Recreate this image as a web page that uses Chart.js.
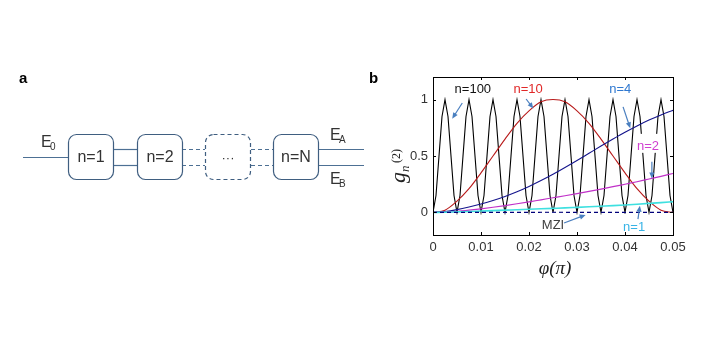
<!DOCTYPE html>
<html>
<head>
<meta charset="utf-8">
<script src="https://cdn.jsdelivr.net/npm/chart.js@4"></script>
<style>
  html, body { margin: 0; padding: 0; background: #fff; }
  #fig { display: block; }
</style>
</head>
<body>
<canvas id="fig" width="722" height="344"></canvas>
<script>
// phase axis (units of pi)
const phiCoarse = [0, 0.0025, 0.005, 0.0075, 0.01, 0.0125, 0.015, 0.0175, 0.02, 0.0225, 0.025,
  0.0275, 0.03, 0.0325, 0.035, 0.0375, 0.04, 0.0425, 0.045, 0.0475, 0.05];
const phiFine = [0, 0.000625, 0.00125, 0.001875, 0.0025, 0.003125, 0.00375, 0.004375,
  0.005, 0.005625, 0.00625, 0.006875, 0.0075, 0.008125, 0.00875, 0.009375,
  0.01, 0.010625, 0.01125, 0.011875, 0.0125, 0.013125, 0.01375, 0.014375,
  0.015, 0.015625, 0.01625, 0.016875, 0.0175, 0.018125, 0.01875, 0.019375,
  0.02, 0.020625, 0.02125, 0.021875, 0.0225, 0.023125, 0.02375, 0.024375,
  0.025, 0.025625, 0.02625, 0.026875, 0.0275, 0.028125, 0.02875, 0.029375,
  0.03, 0.030625, 0.03125, 0.031875, 0.0325, 0.033125, 0.03375, 0.034375,
  0.035, 0.035625, 0.03625, 0.036875, 0.0375, 0.038125, 0.03875, 0.039375,
  0.04, 0.040625, 0.04125, 0.041875, 0.0425, 0.043125, 0.04375, 0.044375,
  0.045, 0.045625, 0.04625, 0.046875, 0.0475, 0.048125, 0.04875, 0.049375, 0.05];
const phiMZI = [0, 0.05];

// g_n^(2) for each chain length
const gN100 = [0, 0.15, 0.5, 0.85, 1, 0.85, 0.5, 0.15,
  0, 0.15, 0.5, 0.85, 1, 0.85, 0.5, 0.15,
  0, 0.15, 0.5, 0.85, 1, 0.85, 0.5, 0.15,
  0, 0.15, 0.5, 0.85, 1, 0.85, 0.5, 0.15,
  0, 0.15, 0.5, 0.85, 1, 0.85, 0.5, 0.15,
  0, 0.15, 0.5, 0.85, 1, 0.85, 0.5, 0.15,
  0, 0.15, 0.5, 0.85, 1, 0.85, 0.5, 0.15,
  0, 0.15, 0.5, 0.85, 1, 0.85, 0.5, 0.15,
  0, 0.15, 0.5, 0.85, 1, 0.85, 0.5, 0.15,
  0, 0.15, 0.5, 0.85, 1, 0.85, 0.5, 0.15, 0];
const gN10 = [0, 0.02, 0.10, 0.21, 0.35, 0.50, 0.65, 0.79, 0.90, 0.98, 1.00,
  0.98, 0.90, 0.79, 0.65, 0.50, 0.35, 0.21, 0.10, 0.02, 0];
const gN4 = [0, 0.008, 0.025, 0.048, 0.075, 0.106, 0.142, 0.183, 0.23, 0.282, 0.338,
  0.398, 0.46, 0.524, 0.588, 0.65, 0.71, 0.766, 0.818, 0.864, 0.905];
const gN2 = [0, 0.004, 0.01, 0.02, 0.032, 0.046, 0.061, 0.077, 0.094, 0.112, 0.13,
  0.148, 0.167, 0.187, 0.207, 0.228, 0.25, 0.272, 0.296, 0.32, 0.345];
const gN1 = [0, 0.002, 0.005, 0.008, 0.012, 0.016, 0.02, 0.024, 0.028, 0.032, 0.036,
  0.04, 0.045, 0.05, 0.055, 0.06, 0.066, 0.073, 0.08, 0.087, 0.095];
const gMZI = [0, 0];

const xTicks = [0, 0.01, 0.02, 0.03, 0.04, 0.05];
const xTickLabels = ['0', '0.01', '0.02', '0.03', '0.04', '0.05'];
const yTicks = [0, 0.5, 1];
const yTickLabels = ['0', '0.5', '1'];

function pts(xs, ys) {
  return xs.map((x, i) => ({ x: x, y: ys[i] }));
}

// curve annotations: text position and arrow (tail -> head), in data units
const notes = [
  { text: 'n=100', color: '#111111', at: [0.0083, 1.10], from: [0.0061, 0.97], to: [0.0040, 0.83] },
  { text: 'n=10', color: '#e02828', at: [0.0198, 1.10], from: [0.0194, 1.005], to: [0.0209, 0.92] },
  { text: 'n=4', color: '#2f78d0', at: [0.0390, 1.10], from: [0.0396, 0.935], to: [0.0411, 0.745] },
  { text: 'n=2', color: '#d040d0', at: [0.0448, 0.59], from: [0.0456, 0.45], to: [0.0456, 0.30] },
  { text: 'n=1', color: '#38b4e6', at: [0.0419, -0.12], from: [0.0427, -0.06], to: [0.0431, 0.06] },
  { text: 'MZI', color: '#404040', at: [0.0250, -0.11], from: [0.0273, -0.094], to: [0.0318, -0.022] }
];

const sans = '"Liberation Sans", Arial, sans-serif';
const serif = '"Liberation Serif", "Times New Roman", serif';

function roundRect(ctx, x, y, w, h, r) {
  ctx.beginPath();
  ctx.moveTo(x + r, y);
  ctx.arcTo(x + w, y, x + w, y + h, r);
  ctx.arcTo(x + w, y + h, x, y + h, r);
  ctx.arcTo(x, y + h, x, y, r);
  ctx.arcTo(x, y, x + w, y, r);
  ctx.closePath();
}

function hLine(ctx, x1, x2, y, dashed) {
  ctx.setLineDash(dashed ? [4, 3] : []);
  ctx.beginPath();
  ctx.moveTo(x1, y);
  ctx.lineTo(x2, y);
  ctx.stroke();
}

// panel a: the cascade of interferometers
function drawCascade(ctx) {
  ctx.save();
  ctx.fillStyle = '#000';
  ctx.font = 'bold 15px ' + sans;
  ctx.textBaseline = 'alphabetic';
  ctx.fillText('a', 19, 83);

  ctx.strokeStyle = '#4d7094';
  ctx.lineWidth = 1.2;
  const yUp = 149.5, yDn = 165.5, yIn = 157.5;
  hLine(ctx, 23, 68, yIn, false);
  hLine(ctx, 114, 137, yUp, false);
  hLine(ctx, 114, 137, yDn, false);
  hLine(ctx, 182, 205, yUp, true);
  hLine(ctx, 182, 205, yDn, true);
  hLine(ctx, 251, 273, yUp, true);
  hLine(ctx, 251, 273, yDn, true);
  hLine(ctx, 318, 364, yUp, false);
  hLine(ctx, 318, 364, yDn, false);

  const boxes = [
    { x: 68, label: 'n=1', dashed: false },
    { x: 137, label: 'n=2', dashed: false },
    { x: 205, label: '···', dashed: true },
    { x: 273, label: 'n=N', dashed: false }
  ];
  ctx.strokeStyle = '#3f5e80';
  boxes.forEach(b => {
    ctx.setLineDash(b.dashed ? [4, 3] : []);
    roundRect(ctx, b.x + 0.5, 134.5, 45, 45, 8);
    ctx.fillStyle = '#fff';
    ctx.fill();
    ctx.stroke();
    ctx.fillStyle = '#333';
    ctx.font = (b.dashed ? '13px ' : '16px ') + sans;
    ctx.textAlign = 'center';
    ctx.textBaseline = 'middle';
    ctx.fillText(b.label, b.x + 23, 158);
  });
  ctx.setLineDash([]);

  // field labels
  ctx.fillStyle = '#333';
  ctx.textAlign = 'left';
  ctx.textBaseline = 'alphabetic';
  const fields = [
    { x: 41, y: 147, sub: '0' },
    { x: 330, y: 140, sub: 'A' },
    { x: 330, y: 184, sub: 'B' }
  ];
  fields.forEach(f => {
    ctx.font = '16px ' + sans;
    ctx.fillText('E', f.x, f.y);
    ctx.font = '10px ' + sans;
    ctx.fillText(f.sub, f.x + 9, f.y + 3);
  });
  ctx.restore();
}

function arrow(ctx, x1, y1, x2, y2, color) {
  const ang = Math.atan2(y2 - y1, x2 - x1);
  const len = 6, half = 2.6;
  ctx.strokeStyle = color;
  ctx.fillStyle = color;
  ctx.lineWidth = 1.2;
  ctx.beginPath();
  ctx.moveTo(x1, y1);
  ctx.lineTo(x2 - Math.cos(ang) * len * 0.6, y2 - Math.sin(ang) * len * 0.6);
  ctx.stroke();
  ctx.beginPath();
  ctx.moveTo(x2, y2);
  ctx.lineTo(x2 - Math.cos(ang) * len - Math.sin(ang) * half, y2 - Math.sin(ang) * len + Math.cos(ang) * half);
  ctx.lineTo(x2 - Math.cos(ang) * len + Math.sin(ang) * half, y2 - Math.sin(ang) * len - Math.cos(ang) * half);
  ctx.closePath();
  ctx.fill();
}

const figurePlugin = {
  id: 'figure',
  beforeDraw(chart) {
    const ctx = chart.ctx;
    ctx.save();
    ctx.fillStyle = '#fff';
    ctx.fillRect(0, 0, chart.width, chart.height);
    ctx.restore();
    drawCascade(ctx);
  },
  afterDatasetsDraw(chart) {
    const ctx = chart.ctx;
    const a = chart.chartArea;
    const xs = chart.scales.x, ys = chart.scales.y;
    ctx.save();

    // curve labels on white boxes, then arrows
    ctx.font = '13px ' + sans;
    ctx.textAlign = 'center';
    ctx.textBaseline = 'middle';
    notes.forEach(n => {
      const px = xs.getPixelForValue(n.at[0]);
      const py = ys.getPixelForValue(n.at[1]);
      const w = ctx.measureText(n.text).width;
      ctx.fillStyle = '#fff';
      ctx.fillRect(px - w / 2 - 2, py - 12, w + 4, 19);
      ctx.fillStyle = n.color;
      ctx.fillText(n.text, px, py + 1);
    });
    notes.forEach(n => {
      arrow(ctx,
        xs.getPixelForValue(n.from[0]), ys.getPixelForValue(n.from[1]),
        xs.getPixelForValue(n.to[0]), ys.getPixelForValue(n.to[1]), '#4a7fbf');
    });

    // axes box with inward ticks
    ctx.strokeStyle = '#000';
    ctx.lineWidth = 1;
    ctx.strokeRect(Math.round(a.left) + 0.5, Math.round(a.top) + 0.5,
      Math.round(a.right - a.left), Math.round(a.bottom - a.top));
    ctx.beginPath();
    xTicks.forEach(v => {
      const px = Math.round(xs.getPixelForValue(v)) + 0.5;
      ctx.moveTo(px, a.bottom); ctx.lineTo(px, a.bottom - 3);
      ctx.moveTo(px, a.top); ctx.lineTo(px, a.top + 3);
    });
    yTicks.forEach(v => {
      const py = Math.round(ys.getPixelForValue(v)) + 0.5;
      ctx.moveTo(a.left, py); ctx.lineTo(a.left + 3, py);
      ctx.moveTo(a.right, py); ctx.lineTo(a.right - 3, py);
    });
    ctx.stroke();

    // panel letter
    ctx.fillStyle = '#000';
    ctx.font = 'bold 15px ' + sans;
    ctx.textAlign = 'left';
    ctx.textBaseline = 'alphabetic';
    ctx.fillText('b', 369, 83);

    // axis titles
    ctx.fillStyle = '#222';
    ctx.font = 'italic 19px ' + serif;
    ctx.textAlign = 'center';
    ctx.textBaseline = 'middle';
    ctx.fillText('φ(π)', (a.left + a.right) / 2 + 2, 269);

    ctx.save();
    ctx.translate(a.left - 28, (a.top + a.bottom) / 2 + 27);
    ctx.rotate(-Math.PI / 2);
    ctx.textAlign = 'left';
    ctx.textBaseline = 'alphabetic';
    ctx.font = 'italic 22px ' + serif;
    ctx.fillText('g', 0, 0);
    ctx.font = 'italic 13px ' + serif;
    ctx.fillText('n', 11, 4);
    ctx.font = '12px ' + serif;
    ctx.fillText('(2)', 20, -5);
    ctx.restore();

    ctx.restore();
  }
};

const tickFont = { family: sans, size: 13 };

new Chart(document.getElementById('fig'), {
  type: 'line',
  data: {
    datasets: [
      { label: 'MZI', data: pts(phiMZI, gMZI), borderColor: '#00007a', borderWidth: 1.2, borderDash: [4, 3] },
      { label: 'n=1', data: pts(phiCoarse, gN1), borderColor: '#3ee0e0', borderWidth: 1.6, cubicInterpolationMode: 'monotone' },
      { label: 'n=2', data: pts(phiCoarse, gN2), borderColor: '#c030c8', borderWidth: 1.2, cubicInterpolationMode: 'monotone' },
      { label: 'n=4', data: pts(phiCoarse, gN4), borderColor: '#14148c', borderWidth: 1.1, cubicInterpolationMode: 'monotone' },
      { label: 'n=10', data: pts(phiCoarse, gN10), borderColor: '#b81a1a', borderWidth: 1.1, cubicInterpolationMode: 'monotone' },
      { label: 'n=100', data: pts(phiFine, gN100), borderColor: '#000', borderWidth: 1.1 }
    ]
  },
  options: {
    responsive: false,
    animation: false,
    devicePixelRatio: 1,
    layout: { padding: { left: 373, right: 49, top: 77, bottom: 59 } },
    elements: { point: { radius: 0 }, line: { fill: false } },
    plugins: { legend: { display: false }, tooltip: { enabled: false } },
    scales: {
      x: {
        type: 'linear',
        min: 0,
        max: 0.05,
        grid: { display: false, drawTicks: false },
        border: { display: false },
        afterBuildTicks: s => { s.ticks = xTicks.map(v => ({ value: v })); },
        afterFit: s => { s.height = 50; },
        ticks: {
          padding: 5,
          color: '#333',
          font: tickFont,
          maxRotation: 0,
          autoSkip: false,
          callback: (v, i) => xTickLabels[i]
        }
      },
      y: {
        type: 'linear',
        min: -0.2,
        max: 1.2,
        grid: { display: false, drawTicks: false },
        border: { display: false },
        afterBuildTicks: s => { s.ticks = yTicks.map(v => ({ value: v })); },
        afterFit: s => { s.width = 60; },
        ticks: {
          padding: 5,
          color: '#333',
          font: tickFont,
          callback: (v, i) => yTickLabels[i]
        }
      }
    }
  },
  plugins: [figurePlugin]
});
</script>
</body>
</html>
